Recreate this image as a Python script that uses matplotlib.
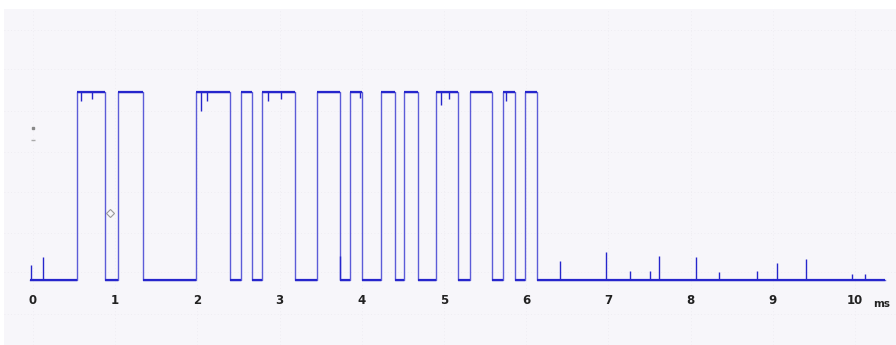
import numpy as np
import matplotlib.pyplot as plt

# Edge times of the logic trace (ms): rise, fall pairs
rise_ms = [0.54, 1.03, 1.98, 2.53, 2.79, 3.46, 3.86, 4.23, 4.51, 4.90, 5.32, 5.72, 5.99]
fall_ms = [0.88, 1.34, 2.40, 2.66, 3.19, 3.74, 4.00, 4.40, 4.68, 5.17, 5.58, 5.86, 6.13]
trace_start, trace_end = -0.04, 10.37
low_level, high_level = 0.0, 1.0

# Glitch spikes on the low level (ms, height)
spike_t = [-0.03, 0.12, 3.74, 6.41, 6.97, 7.26, 7.51, 7.62, 8.07, 8.35, 8.81, 9.05, 9.40, 9.96, 10.12]
spike_h = [0.08, 0.12, 0.13, 0.10, 0.15, 0.05, 0.05, 0.13, 0.12, 0.04, 0.05, 0.09, 0.11, 0.03, 0.03]

# Small dips on the high level (ms, depth)
dip_t = [0.58, 0.72, 2.04, 2.12, 2.86, 3.02, 3.98, 4.96, 5.06, 5.76]
dip_h = [0.05, 0.04, 0.10, 0.05, 0.05, 0.04, 0.03, 0.07, 0.04, 0.05]

tick_ms = list(range(0, 11))
tick_labels = [str(t) for t in tick_ms]

edge_color = "#5c5cd8"
flat_color = "#2626cc"

fig = plt.figure(figsize=(8.96, 3.45), dpi=100)
fig.patch.set_facecolor("white")
ax = fig.add_axes([4 / 896, 0, 892 / 896, 336 / 345])
ax.set_facecolor("#f7f6fa")
for s in ax.spines.values():
    s.set_visible(False)
ax.set_xticks([])
ax.set_yticks([])

ax.set_xlim(-0.353, 10.499)
ax.set_ylim(-0.346, 1.441)

# faint scope grid
for t in tick_ms:
    ax.axvline(t, color="#eceaf0", lw=0.6, ls=(0, (1, 3)), zorder=0)
for v in [-0.18, 0.04, 0.25, 0.47, 0.68, 0.9, 1.12, 1.33]:
    ax.axhline(v, color="#eceaf0", lw=0.6, ls=(0, (1, 3)), zorder=0)

# build the square wave path from the edge lists
xs = [trace_start]
ys = [low_level]
for r, f in zip(rise_ms, fall_ms):
    xs += [r, r, f, f]
    ys += [low_level, high_level, high_level, low_level]
xs.append(trace_end)
ys.append(low_level)
ax.plot(xs, ys, color=edge_color, lw=1.0, zorder=3)

# flat parts of the trace look heavier on the scope
ax.hlines(np.full(len(rise_ms), high_level), rise_ms, fall_ms, color=flat_color, lw=1.6, zorder=4)
low_starts = [trace_start] + fall_ms
low_ends = rise_ms + [trace_end]
ax.hlines(np.full(len(low_starts), low_level), low_starts, low_ends, color=flat_color, lw=1.6, zorder=4)

ax.vlines(spike_t, low_level, np.array(spike_h) + low_level, color=flat_color, lw=1.0, zorder=4)
ax.vlines(dip_t, high_level - np.array(dip_h), high_level, color=flat_color, lw=1.0, zorder=4)

# cursor marks
ax.plot([0.937], [0.356], marker="D", ms=4, mfc="none", mec="#999999", mew=0.8, zorder=5)
ax.plot([0.0], [0.81], marker="s", ms=1.5, color="#888888", zorder=5)
ax.plot([0.0], [0.745], marker="_", ms=3, color="#aaaaaa", zorder=5)

# axis labels drawn inside the plot like the scope display
trans = ax.get_xaxis_transform()
for t, lab in zip(tick_ms, tick_labels):
    ax.text(t, 0.131, lab, transform=trans, ha="center", va="center",
            fontsize=8.5, fontweight="bold", color="#222222")
ax.text(10.32, 0.122, "ms", transform=trans, ha="center", va="center",
        fontsize=7.5, fontweight="bold", color="#222222")

fig.savefig("out.png", dpi=100, facecolor=fig.get_facecolor())
